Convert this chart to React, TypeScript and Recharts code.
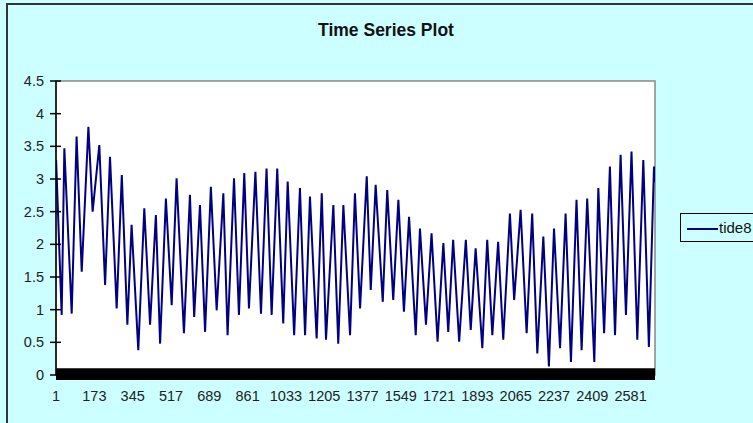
import React from "react"
import { LineChart, Line, XAxis, YAxis, ReferenceArea } from "recharts"

// turning points of the tide8 series (record no. / level)
const tideIdx = [
  1, 26, 38, 71, 93, 116, 146, 165, 195, 221, 243, 273, 296, 321, 340, 370, 397, 423, 449, 468,
  494, 520, 542, 575, 602, 621, 647, 670, 696, 722, 752, 771, 800, 822, 846, 867, 896,
  921, 946, 969, 994, 1021, 1041, 1070, 1096, 1119, 1141, 1171, 1194, 1213, 1246, 1268, 1291, 1321, 1343,
  1366, 1396, 1414, 1436, 1468, 1488, 1515, 1538, 1563, 1586, 1616, 1635, 1662, 1687, 1714, 1740, 1762, 1784,
  1811, 1841, 1863, 1885, 1915, 1937, 1960, 1986, 2009, 2039, 2058, 2087, 2114, 2139, 2162, 2189, 2214, 2237,
  2264, 2289, 2313, 2338, 2361, 2386, 2418, 2436, 2462, 2488, 2511, 2536, 2560, 2585, 2611, 2638, 2663, 2686, 2690,
]
const tideVal = [
  3.29, 0.92, 3.47, 0.94, 3.65, 1.58, 3.8, 2.5, 3.52, 1.38, 3.34, 1.02, 3.06, 0.77, 2.3, 0.38, 2.55, 0.77, 2.45, 0.48,
  2.7, 1.07, 3.01, 0.64, 2.76, 0.89, 2.6, 0.66, 2.88, 0.99, 2.78, 0.61, 3.01, 0.92, 3.09, 1.02, 3.11,
  0.94, 3.16, 0.92, 3.16, 0.79, 2.96, 0.61, 2.86, 0.61, 2.73, 0.56, 2.78, 0.54, 2.6, 0.48, 2.6, 0.61, 2.78,
  1.02, 3.04, 1.3, 2.91, 1.12, 2.83, 1.15, 2.68, 0.97, 2.42, 0.61, 2.24, 0.77, 2.17, 0.51, 2.02, 0.66, 2.07,
  0.51, 2.07, 0.69, 1.94, 0.41, 2.07, 0.61, 2.04, 0.54, 2.47, 1.15, 2.53, 0.64, 2.47, 0.33, 2.12, 0.13, 2.24,
  0.41, 2.47, 0.2, 2.68, 0.38, 2.7, 0.2, 2.86, 0.64, 3.19, 0.61, 3.37, 0.92, 3.42, 0.54, 3.29, 0.43, 3.19, 2.95,
]
const recordCount = 2690
const xTicks = [1, 173, 345, 517, 689, 861, 1033, 1205, 1377, 1549, 1721, 1893, 2065, 2237, 2409, 2581]
const yTicks = [0, 0.5, 1, 1.5, 2, 2.5, 3, 3.5, 4, 4.5]

const data = tideIdx.map((t, i) => ({ t, tide8: tideVal[i] }))

const FONT = "'Liberation Sans', Arial, sans-serif"

const YTick = ({ x, y, payload }: any) => (
  <g>
    <line x1={x - 6} x2={x + 5} y1={y} y2={y} stroke="#000" strokeWidth={1.5} />
    <text x={x - 12} y={y + 5} textAnchor="end" fontSize={14.5} fill="#222" fontFamily={FONT}>
      {payload.value}
    </text>
  </g>
)

const XTick = ({ x, y, payload }: any) => (
  <text x={x} y={y + 26} textAnchor="middle" fontSize={14.5} fill="#222" fontFamily={FONT}>
    {payload.value}
  </text>
)

const LegendBox = () => (
  <div
    style={{
      position: "absolute",
      left: 680,
      top: 213,
      width: 90,
      height: 27,
      border: "1px solid #000",
      background: "#ccffff",
      fontFamily: FONT,
      fontSize: 15,
      color: "#111",
    }}
  >
    <div style={{ position: "absolute", left: 6, top: 14, width: 31, height: 2, background: "#000080" }} />
    <div style={{ position: "absolute", left: 38, top: 5, lineHeight: "17px" }}>tide8</div>
  </div>
)

export default function App() {
  return (
    <div
      style={{
        position: "absolute",
        left: 0,
        top: 0,
        width: 753,
        height: 423,
        overflow: "hidden",
        background: "#ccffff",
      }}
    >
      <div
        style={{
          position: "absolute",
          left: 6,
          top: 3,
          width: 800,
          height: 500,
          borderLeft: "2px solid #333",
          borderTop: "2px solid #333",
        }}
      />
      <div
        style={{
          position: "absolute",
          left: 386,
          top: 21,
          transform: "translateX(-50%)",
          fontFamily: FONT,
          fontWeight: "bold",
          fontSize: 17.5,
          lineHeight: "18px",
          color: "#111",
          whiteSpace: "nowrap",
        }}
      >
        Time Series Plot
      </div>
      <div style={{ position: "absolute", left: 0, top: 0 }}>
        <LineChart width={753} height={423} data={data} margin={{ top: 81, right: 98, bottom: 18, left: 0 }}>
          <rect x={56} y={81} width={599} height={294} fill="#fff" stroke="#888" strokeWidth={1.5} />
          <XAxis
            dataKey="t"
            type="number"
            domain={[0.5, recordCount + 0.5]}
            ticks={xTicks}
            interval={0}
            height={30}
            tickSize={0}
            tickMargin={0}
            tickLine={false}
            axisLine={{ stroke: "#000", strokeWidth: 1.5 }}
            tick={<XTick />}
            allowDataOverflow
          />
          <YAxis
            type="number"
            domain={[0, 4.5]}
            ticks={yTicks}
            interval={0}
            width={56}
            tickSize={0}
            tickMargin={0}
            tickLine={false}
            axisLine={{ stroke: "#000", strokeWidth: 1.5 }}
            tick={<YTick />}
          />
          <ReferenceArea
            x1={0.5}
            x2={recordCount + 0.5}
            y1={-0.076}
            y2={0.102}
            fill="#000"
            fillOpacity={1}
            stroke="none"
            ifOverflow="visible"
          />
          <Line
            type="linear"
            dataKey="tide8"
            stroke="#000080"
            strokeWidth={2}
            dot={false}
            isAnimationActive={false}
          />
        </LineChart>
      </div>
      <LegendBox />
    </div>
  )
}
